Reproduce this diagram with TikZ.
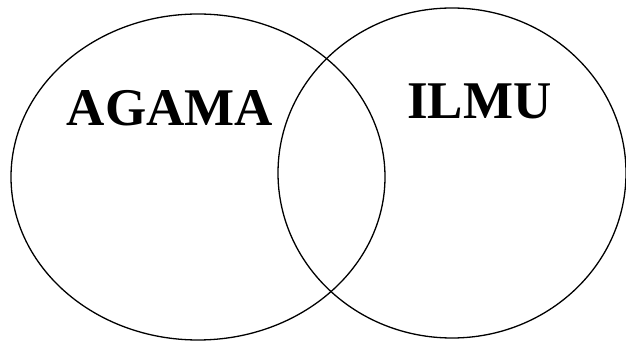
\documentclass[tikz,border=0pt]{standalone}
\usepackage{fontspec}
\setmainfont{Liberation Serif}
\begin{document}
\begin{tikzpicture}[x=1pt,y=1pt,
  circ/.style={draw=black, line width=1.3pt},
  lbl/.style={font=\fontsize{53}{60}\selectfont\bfseries, inner sep=0pt, anchor=center}]
\useasboundingbox (0,0) rectangle (626,345);
\draw[circ] (198,168) ellipse [x radius=187, y radius=163];
\draw[circ] (452,172) ellipse [x radius=174, y radius=165];
\node[lbl] (agama) at (170,236.5) {AGAMA};
\node[lbl] (ilmu) at (479.5,244) {ILMU};
\end{tikzpicture}
\end{document}
